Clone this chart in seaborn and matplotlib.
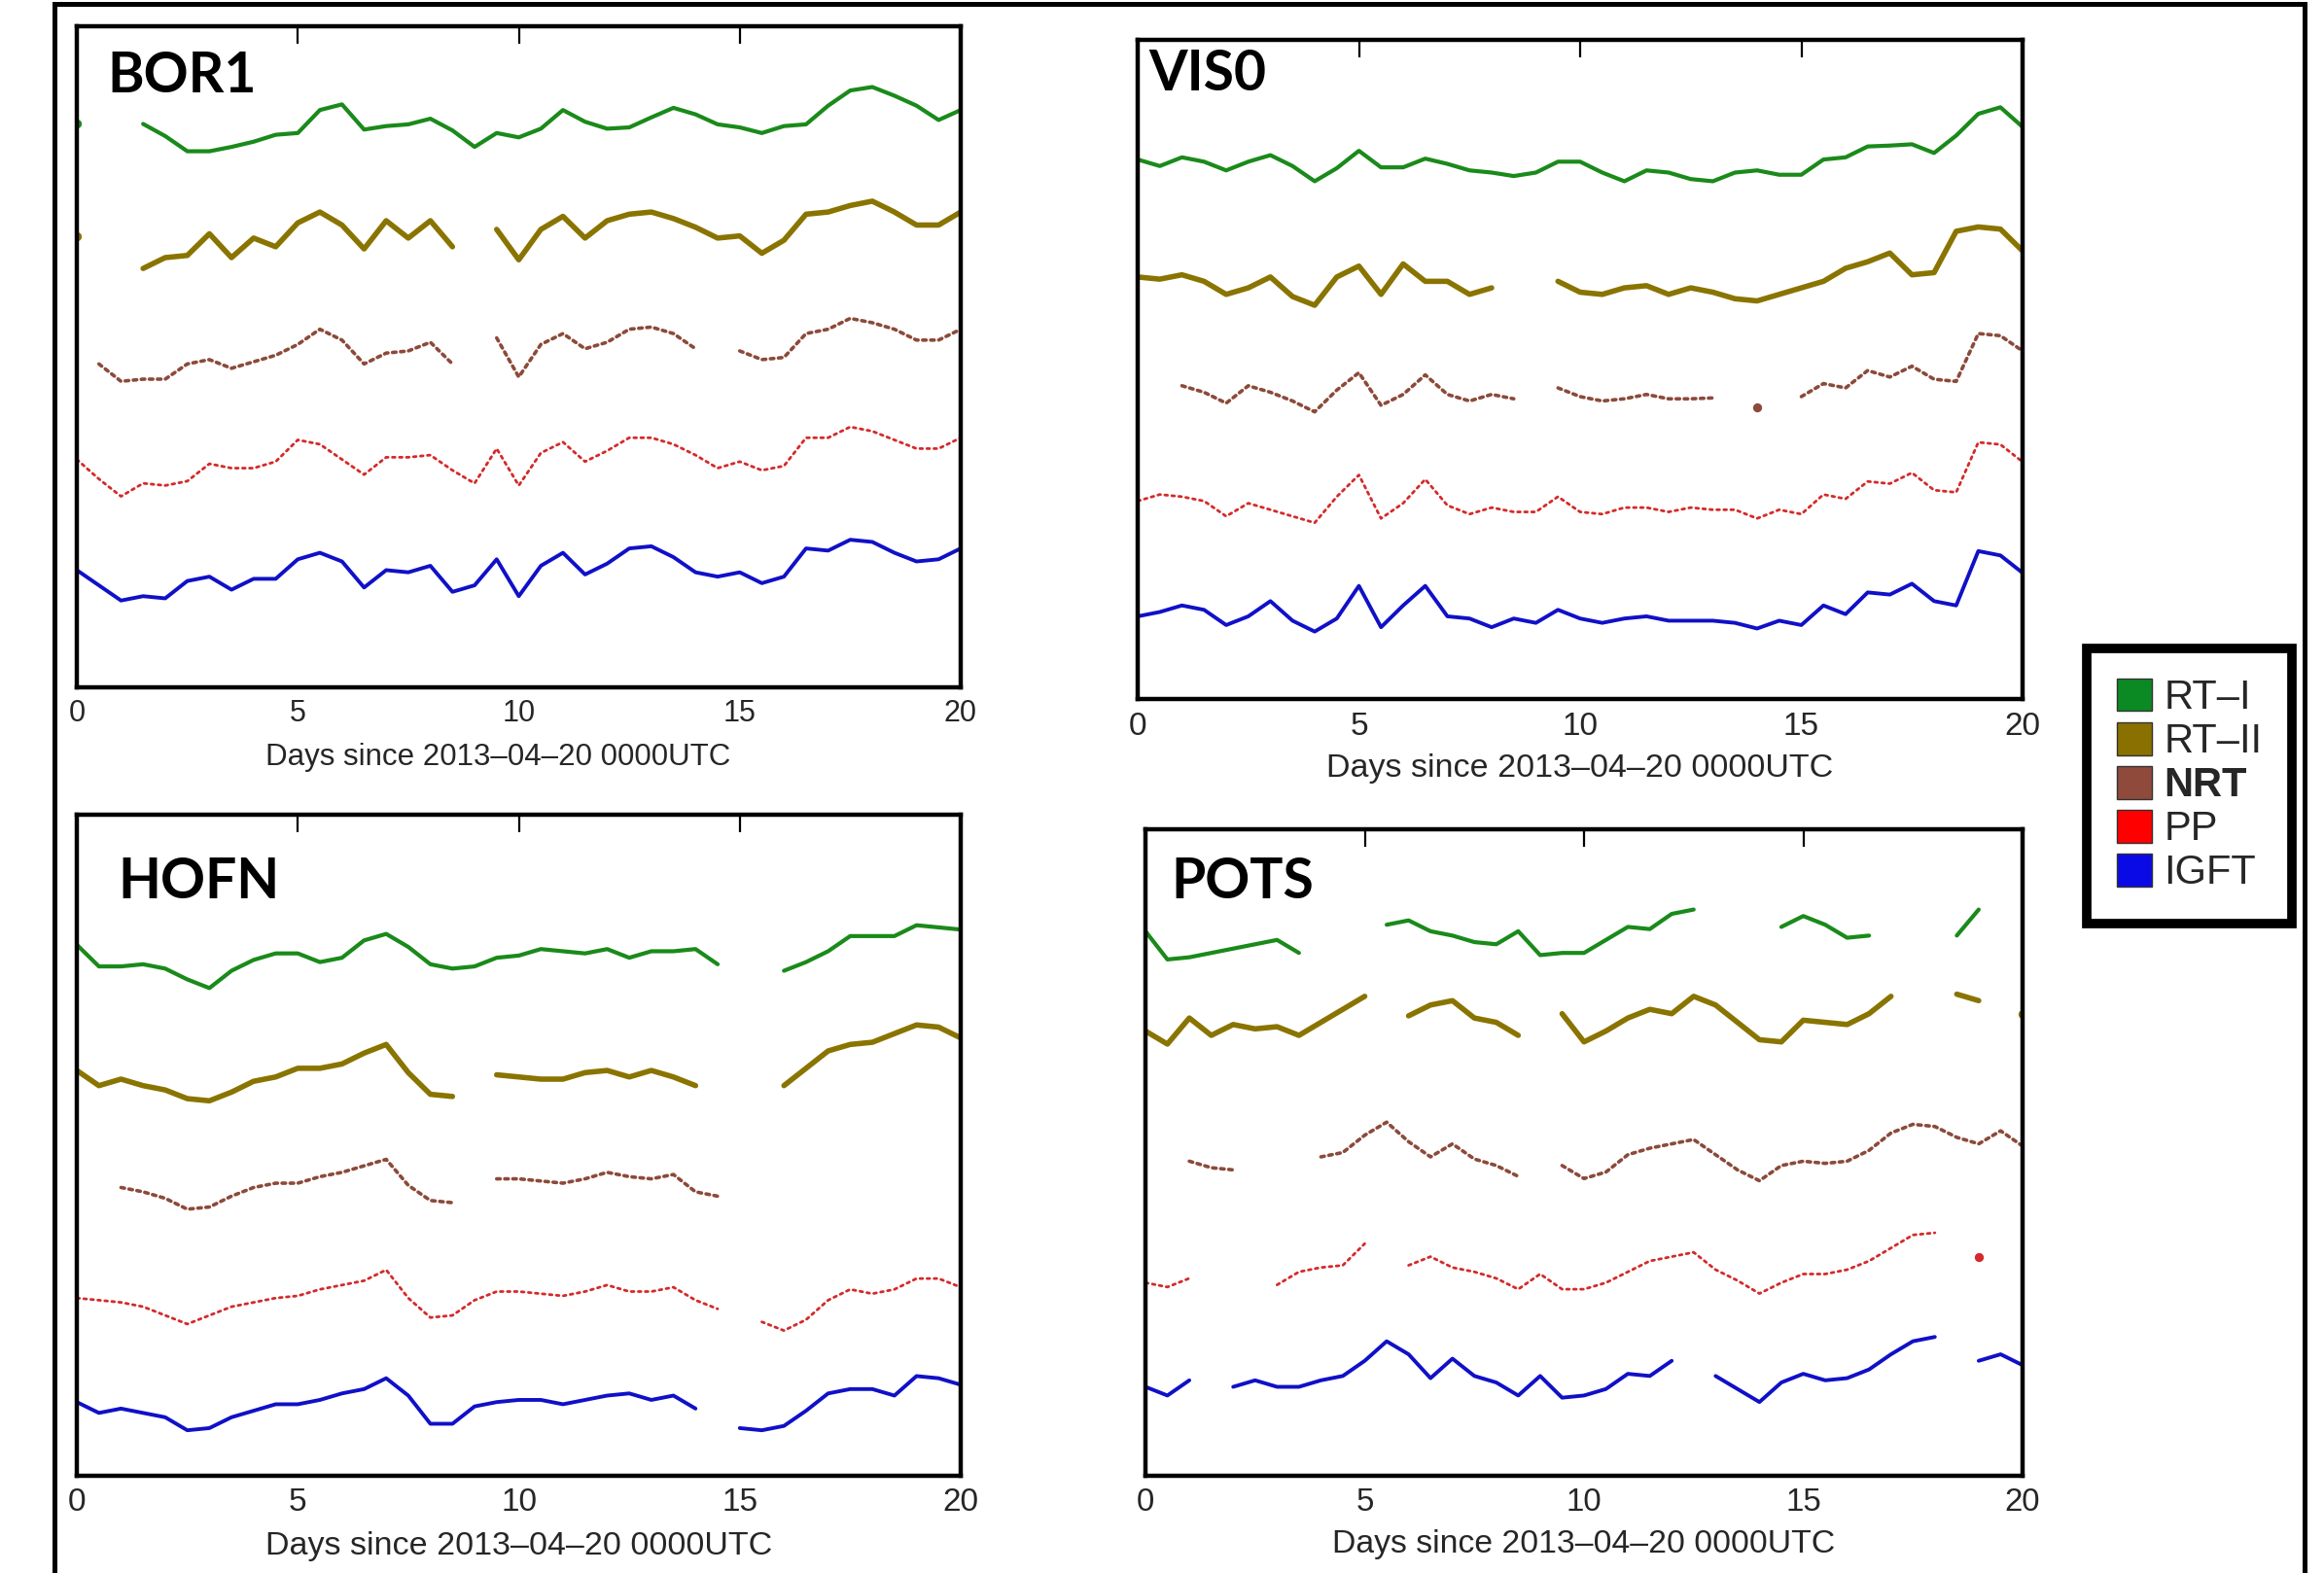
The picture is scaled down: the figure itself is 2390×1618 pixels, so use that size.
import numpy as np
import pandas as pd
import matplotlib
matplotlib.use("Agg")
import matplotlib.pyplot as plt
from matplotlib.patches import Patch, Rectangle
import seaborn as sns

# %% Data (arbitrary units from panel bottom)
n = np.nan
days = np.arange(0, 20.01, 0.5)

bor1_rt1 = [130, n, n, 129.8, 127, 123.5, 123.5, 124.5, 125.7, 127.3, 127.7, 133, 134.3, 128.5, 129.3, 129.7, 131, 128.3, 124.5, 127.7, 126.7,
            128.7, 133, 130.3, 128.7, 129, 131.3, 133.5, 132, 129.7, 129, 127.7, 129.3, 129.7, 134, 137.5, 138.3, 136.3, 134, 130.7, 133]
bor1_rt2 = [104, n, n, 96.5, 99, 99.5, 104.5, 99, 103.5, 101.5, 107, 109.5, 106.5, 101, 107.5, 103.5, 107.5, 101.5, n, 105.5, 98.5,
            105.5, 108.5, 103.5, 107.5, 109, 109.5, 108, 106, 103.5, 104, 100, 103, 109, 109.5, 111, 112, 109.5, 106.5, 106.5, 109.5]
bor1_nrt = [n, 74.5, 70.5, 71, 71, 74.5, 75.5, 73.5, 75, 76.5, 79, 82.5, 80, 74.5, 77, 77.5, 79.5, 74.5, n, 80.5, 71.5,
            79, 81.5, 78, 79.5, 82.5, 83, 81.5, 78, n, 77.5, 75.5, 76, 81.5, 82.5, 85, 84, 82.5, 80, 80, 82.5]
bor1_pp = [52.5, 48, 44, 47, 46.5, 47.5, 51.5, 50.5, 50.5, 52, 57, 56, 52.5, 49, 53, 53, 53.5, 50, 47, 55, 46.5,
           54, 56.5, 52, 54.5, 57.5, 57.5, 56, 53.5, 50.5, 52, 50, 51, 57.5, 57.5, 60, 59, 57, 55, 55, 57.5]
bor1_igft = [27, 23.5, 20, 21, 20.5, 24.5, 25.5, 22.5, 25, 25, 29.5, 31, 29, 23, 27, 26.5, 28, 22, 23.5, 29.5, 21,
             28, 31, 26, 28.5, 32, 32.5, 30, 26.5, 25.5, 26.5, 24, 25.5, 32, 31.5, 34, 33.5, 31, 29, 29.5, 32]

vis0_rt1 = [124, 122.5, 124.5, 123.5, 121.5, 123.5, 125, 122.5, 119, 122, 126, 122.2, 122.2, 124.2, 123, 121.5, 121, 120.2, 121, 123.5, 123.5,
            121, 119, 121.5, 121, 119.5, 119, 121, 121.5, 120.5, 120.5, 124, 124.5, 127, 127.2, 127.5, 125.5, 129.5, 134.5, 136, 131.5]
vis0_rt2 = [97, 96.5, 97.5, 96, 93, 94.5, 97, 92.5, 90.5, 97, 99.5, 93, 100, 96, 96, 93, 94.5, n, n, 96, 93.5,
            93, 94.5, 95, 93, 94.5, 93.5, 92, 91.5, 93, 94.5, 96, 99, 100.5, 102.5, 97.5, 98, 107.5, 108.5, 108, 103]
vis0_nrt = [n, n, 72, 70.5, 68, 72, 70.5, 68.5, 66, 71, 75, 67.5, 70, 74.5, 70, 68.5, 70, 69, n, 71.5, 69.5,
            68.5, 69, 70, 69, 69, 69.2, n, 67, n, 69.5, 72.5, 71.5, 75.5, 74, 76.5, 73.5, 73, 84, 83.5, 80]
vis0_pp = [45.5, 47, 46.5, 45.5, 42, 45, 43.5, 42, 40.5, 46.5, 51.5, 41.5, 45, 50.5, 44.5, 42.5, 44, 43, 43, 46.5, 43,
           42.5, 44, 44, 43, 44, 43.5, 43.5, 41.5, 43.5, 42.5, 47, 46, 50, 49.5, 52, 48, 47.5, 59, 58.5, 54.5]
vis0_igft = [19, 20, 21.5, 20.5, 17, 19, 22.5, 18, 15.5, 18.5, 26, 16.5, 21.5, 26, 19, 18.5, 16.5, 18.5, 17.5, 20.5, 18.5,
             17.5, 18.5, 19, 18, 18, 18, 17.5, 16.2, 18, 17, 21.5, 19.5, 24.5, 24, 26.5, 22.5, 21.5, 34, 33, 29]

hofn_rt1 = [122.5, 117.5, 117.5, 118, 117, 114.5, 112.5, 116.5, 119, 120.5, 120.5, 118.5, 119.5, 123.5, 125, 122, 118, 117, 117.5, 119.5, 120,
            121.5, 121, 120.5, 121.5, 119.5, 121, 121, 121.5, 118, n, n, 116.5, 118.5, 121, 124.5, 124.5, 124.5, 127, 126.5, 126]
hofn_rt2 = [93.5, 90, 91.5, 90, 89, 87, 86.5, 88.5, 91, 92, 94, 94, 95, 97.5, 99.5, 93, 88, 87.5, n, 92.5, 92,
            91.5, 91.5, 93, 93.5, 92, 93.5, 92, 90, n, n, n, 90, 94, 98, 99.5, 100, 102, 104, 103.5, 101]
hofn_nrt = [n, n, 66.5, 65.5, 64, 61.5, 62, 64.5, 66.5, 67.5, 67.5, 69, 70, 71.5, 73, 67, 63.5, 63, n, 68.5, 68.5,
            68, 67.5, 68.5, 70, 69, 68.5, 69.5, 65.5, 64.5, n, n, n, n, n, n, n, n, n, n, n]
hofn_pp = [41, 40.5, 40, 39, 37, 35, 37, 39, 40, 41, 41.5, 43, 44, 45, 47.5, 41, 36.5, 37, 40.5, 42.5, 42.5,
           42, 41.5, 42.5, 44, 42.5, 42.5, 43.5, 40.5, 38.5, n, 35.5, 33.5, 36, 40.5, 43, 42, 43, 45.5, 45.5, 43.5]
hofn_igft = [17, 14.5, 15.5, 14.5, 13.5, 10.5, 11, 13.5, 15, 16.5, 16.5, 17.5, 19, 20, 22.5, 18.5, 12, 12, 16, 17, 17.5,
             17.5, 16.5, 17.5, 18.5, 19, 17.5, 18.5, 15.5, n, 11, 10.5, 11.5, 15, 19, 20, 20, 18.5, 23, 22.5, 21]

pots_rt1 = [125.5, 119, 119.5, 120.5, 121.5, 122.5, 123.5, 120.5, n, n, n, 127, 128, 125.5, 124.5, 123, 122.5, 125.5, 120, 120.5, 120.5,
            123.5, 126.5, 126, 129.5, 130.5, n, n, n, 126.5, 129, 127, 124, 124.5, n, n, n, 124.5, 130.5, n, n]
pots_rt2 = [102.5, 99.5, 105.5, 101.5, 104, 103, 103.5, 101.5, 104.5, 107.5, 110.5, n, 106, 108.5, 109.5, 105.5, 104.5, 101.5, n, 106.5, 100,
            102.5, 105.5, 107.5, 106.5, 110.5, 108.5, 104.5, 100.5, 100, 105, 104.5, 104, 106.5, 110.5, n, n, 111, 109.5, n, 106.5]
pots_nrt = [n, n, 72.5, 71, 70.5, n, n, n, 73.5, 74.5, 78.5, 81.5, 77, 73.5, 76.5, 73, 71.5, 69, n, 71.5, 68.5,
            70, 74, 75.5, 76.5, 77.5, 74, 70.5, 68, 71.5, 72.5, 72, 72.5, 75, 79, 81, 80.5, 78, 76.5, 79.5, 76]
pots_pp = [44.5, 43.5, 45.5, n, n, n, 44, 47, 48, 48.5, 53.5, n, 48.5, 50.5, 48, 47, 45.5, 43, 46.5, 43, 43,
           44.5, 47, 49.5, 50.5, 51.5, 47.5, 45, 42, 44.5, 46.5, 46.5, 47.5, 49.5, 52.5, 55.5, 56, n, 50.5, n, n]
pots_igft = [20.5, 18.5, 22, n, 20.5, 22, 20.5, 20.5, 22, 23, 26.5, 31, 28, 22.5, 27, 23, 21.5, 18.5, 23, 18, 18.5,
             20, 23.5, 23, 26.5, n, 23, 20, 17, 21.5, 23.5, 22, 22.5, 24.5, 28, 31, 32, n, 26.5, 28, 25.5]

series_names = ['RT\u2013I', 'RT\u2013II', 'NRT', 'PP', 'IGFT']
stations = ['BOR1', 'VIS0', 'HOFN', 'POTS']
station_data = {
    'BOR1': [bor1_rt1, bor1_rt2, bor1_nrt, bor1_pp, bor1_igft],
    'VIS0': [vis0_rt1, vis0_rt2, vis0_nrt, vis0_pp, vis0_igft],
    'HOFN': [hofn_rt1, hofn_rt2, hofn_nrt, hofn_pp, hofn_igft],
    'POTS': [pots_rt1, pots_rt2, pots_nrt, pots_pp, pots_igft],
}

# %% Styling
line_colors = ['#1a8a1a', '#8a7400', '#8b4a3a', '#d42a2a', '#1010c8']
legend_colors = ['#0b8a23', '#8a7000', '#8f4a3c', '#ff0000', '#0a0ae6']
line_styles = [dict(lw=3.0, ls='-'), dict(lw=4.0, ls='-'),
               dict(lw=2.6, ls=(0, (1, 1.3)), dash_capstyle='round'),
               dict(lw=2.0, ls=(0, (1, 1.6)), dash_capstyle='round'),
               dict(lw=2.8, ls='-')]

# axes boxes in pixels: left, top, right, bottom
W, H = 2390, 1618
boxes = {'BOR1': (79, 27, 988, 707), 'VIS0': (1170, 41, 2080, 719),
         'HOFN': (79, 838, 988, 1518), 'POTS': (1178, 853, 2080, 1518)}
ylims = {'BOR1': 152.3, 'VIS0': 151.5, 'HOFN': 152.5, 'POTS': 149}
label_pos = {'BOR1': (0.034, 0.963), 'VIS0': (0.012, 0.987),
             'HOFN': (0.047, 0.937), 'POTS': (0.029, 0.958)}
xlabel_size = {'BOR1': 22.5, 'VIS0': 24.5, 'HOFN': 24.5, 'POTS': 24.3}
xlabel_x = {'BOR1': 0.476, 'VIS0': 0.5, 'HOFN': 0.5, 'POTS': 0.5}

sns.set_style('white')
plt.rcParams['font.family'] = ['Liberation Sans', 'DejaVu Sans']

fig = plt.figure(figsize=(W / 100, H / 100), dpi=100)


def draw_series(ax, vals, color, style):
    d = pd.DataFrame({'day': days, 'val': vals})
    d['seg'] = d['val'].isna().cumsum()
    d = d.dropna()
    counts = d['seg'].map(d['seg'].value_counts())
    lines = d[counts > 1]
    pts = d[counts == 1]
    if len(lines):
        sns.lineplot(data=lines, x='day', y='val', units='seg', estimator=None,
                     color=color, ax=ax, legend=False, **style)
    if len(pts):
        sns.scatterplot(data=pts, x='day', y='val', color=color, s=45,
                        marker='o', linewidth=0, ax=ax, legend=False)


for st in stations:
    l, t, r, b = boxes[st]
    ax = fig.add_axes([l / W, 1 - b / H, (r - l) / W, (b - t) / H])
    for vals, c, sty in zip(station_data[st], line_colors, line_styles):
        draw_series(ax, vals, c, sty)
    ax.set_xlim(0, 20)
    ax.set_ylim(0, ylims[st])
    ax.set_xticks([0, 5, 10, 15, 20])
    ax.set_yticks([])
    ax.tick_params(axis='x', direction='in', top=True, length=13, width=1.6,
                   labelsize=xlabel_size[st] - 0.5, pad=9, color='black')
    ax.set_ylabel('')
    ax.set_xlabel('Days since 2013\u201304\u201320 0000UTC', fontsize=xlabel_size[st])
    ax.xaxis.set_label_coords(xlabel_x[st], -0.106)
    ax.xaxis.label.set_va('center')
    for sp in ax.spines.values():
        sp.set_visible(True)
        sp.set_color('black')
        sp.set_linewidth(3.2)
    ax.text(label_pos[st][0], label_pos[st][1], st, transform=ax.transAxes,
            ha='left', va='top', fontsize=41, fontweight='bold', color='black',
            family=['Lato', 'DejaVu Sans'])

# outer frame
fig.add_artist(Rectangle((56 / W, -0.05), (2370 - 56) / W, 1.05 - 4 / H,
                         transform=fig.transFigure, fill=False, lw=3.6,
                         edgecolor='black', clip_on=False))

handles = [Patch(facecolor=c, edgecolor='#333333', lw=1.0, label=lab)
           for c, lab in zip(legend_colors, series_names)]
leg = fig.legend(handles=handles, loc='upper left', bbox_to_anchor=(2146 / W, 1 - 667 / H),
                 fontsize=30, frameon=True, fancybox=False, framealpha=1,
                 edgecolor='black', handlelength=0.85, handleheight=0.85,
                 handletextpad=0.3, labelspacing=0.12, borderpad=0.75, borderaxespad=0)
leg.get_frame().set_linewidth(7)
for txt in leg.get_texts():
    if txt.get_text() == 'NRT':
        txt.set_fontweight('bold')

fig.savefig('out.png', dpi=100)
